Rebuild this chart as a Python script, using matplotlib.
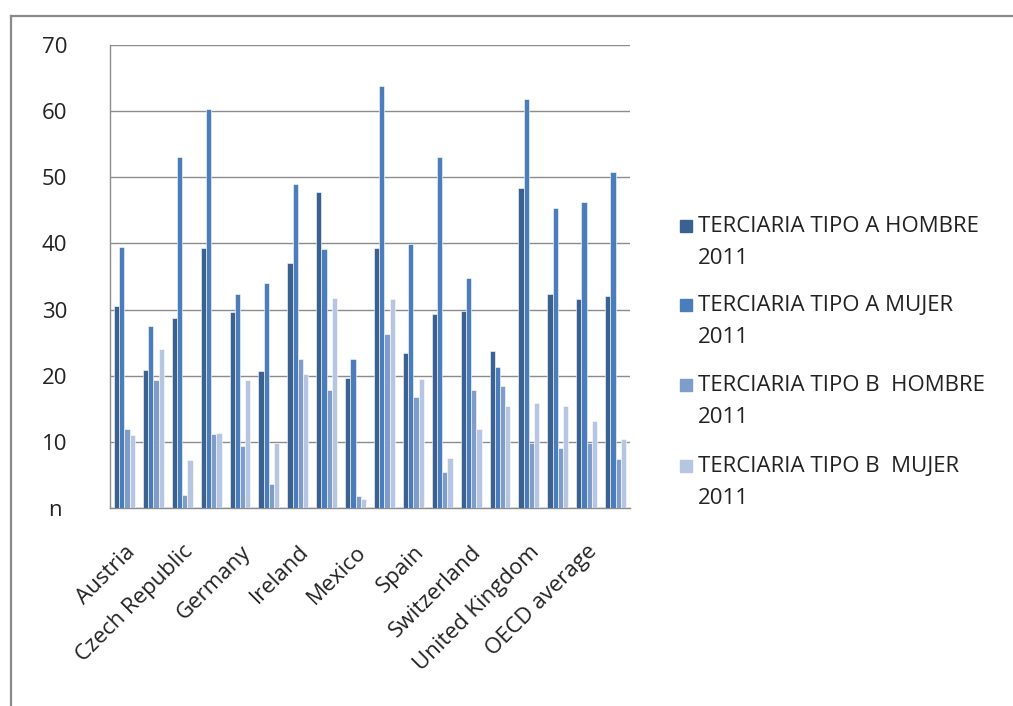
import matplotlib
matplotlib.use("Agg")
import matplotlib.pyplot as plt
from matplotlib.lines import Line2D
from matplotlib.patches import Rectangle
import numpy as np

plt.rcParams['font.family'] = ['Open Sans', 'DejaVu Sans']

categories = ["Austria", "Belgium", "Czech Republic", "Denmark", "Germany", "Hungary",
              "Ireland", "Japan", "Mexico", "New Zealand", "Spain", "Sweden",
              "Switzerland", "Turkey", "United Kingdom", "United States",
              "OECD average", "EU21 average"]

series_names = ["TERCIARIA TIPO A HOMBRE\n2011", "TERCIARIA TIPO A MUJER\n2011",
                "TERCIARIA TIPO B  HOMBRE\n2011", "TERCIARIA TIPO B  MUJER\n2011"]

tipo_a_hombre = [30.6, 20.9, 28.8, 39.3, 29.6, 20.7, 37.0, 47.7, 19.7, 39.3, 23.4, 29.4, 29.8, 23.7, 48.4, 32.3, 31.6, 32.1]
tipo_a_mujer = [39.4, 27.5, 53.1, 60.3, 32.3, 34.0, 49.0, 39.1, 22.6, 63.8, 39.9, 53.1, 34.8, 21.3, 61.9, 45.3, 46.3, 50.8]
tipo_b_hombre = [11.9, 19.3, 2.0, 11.2, 9.4, 3.6, 22.6, 17.8, 1.8, 26.3, 16.8, 5.5, 17.8, 18.5, 9.9, 9.0, 9.9, 7.4]
tipo_b_mujer = [11.0, 24.1, 7.2, 11.3, 19.3, 9.8, 20.3, 31.8, 1.4, 31.6, 19.5, 7.6, 11.9, 15.4, 15.8, 15.4, 13.1, 10.4]

y_ticks = [0, 10, 20, 30, 40, 50, 60, 70]
y_tick_labels = ["n", "10", "20", "30", "40", "50", "60", "70"]

colors = ["#3B6190", "#4A7DBA", "#7F9DCB", "#B6C6E2"]

W, H = 1013, 706
fig = plt.figure(figsize=(W / 100, H / 100), dpi=100)
ax = fig.add_axes([110 / W, 1 - 508 / H, 520 / W, (508 - 45) / H])

series = [tipo_a_hombre, tipo_a_mujer, tipo_b_hombre, tipo_b_mujer]
x = np.arange(len(categories))
bw = 0.18
for i, vals in enumerate(series):
    ax.bar(x + (i - 1.5) * bw, vals, width=bw, color=colors[i],
           edgecolor="white", linewidth=0.4, zorder=3)

ax.set_xlim(-0.5, len(categories) - 0.5)
ax.set_ylim(0, 70)
ax.set_yticks(y_ticks)
ax.set_yticklabels(y_tick_labels, fontsize=16, color="#222222")
for lab in ax.get_yticklabels():
    lab.set_horizontalalignment("center")
ax.tick_params(axis="y", length=0, pad=40)
ax.yaxis.grid(True, color="#8c8c8c", linewidth=1.0, zorder=0)
ax.set_axisbelow(True)

ax.set_xticks(x[::2])
ax.set_xticklabels(categories[::2], fontsize=16, rotation=45, ha="right",
                   rotation_mode="anchor", color="#222222")
ax.tick_params(axis="x", length=0, pad=24)

for s in ["top", "right"]:
    ax.spines[s].set_visible(False)
for s in ["left", "bottom"]:
    ax.spines[s].set_color("#8c8c8c")
    ax.spines[s].set_linewidth(1.0)

# outer frame
fig.add_artist(Line2D([10.5 / W, 10.5 / W], [0, 1 - 15.5 / H], transform=fig.transFigure,
                      color="#8a8a8a", linewidth=1.6))
fig.add_artist(Line2D([10.5 / W, 1], [1 - 15.5 / H, 1 - 15.5 / H], transform=fig.transFigure,
                      color="#8a8a8a", linewidth=1.6))

# legend
entry_y = [226, 305, 385, 466]
for i, name in enumerate(series_names):
    yc = entry_y[i]
    fig.add_artist(Rectangle((680 / W, 1 - (yc + 6) / H), 12 / W, 12 / H,
                             transform=fig.transFigure, color=colors[i]))
    fig.text(698 / W, 1 - (yc - 10) / H, name, fontsize=16, va="top", ha="left",
             color="#222222", linespacing=1.7)

fig.savefig("out.png", dpi=100)
